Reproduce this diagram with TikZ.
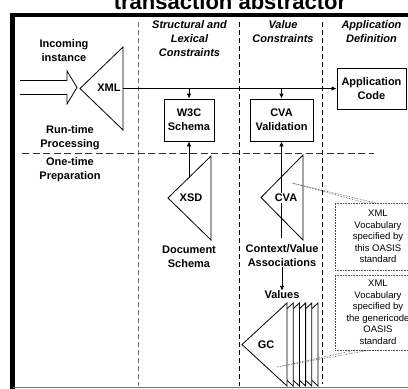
\documentclass[tikz,border=0pt]{standalone}
\usepackage{fontspec}
\setmainfont{Liberation Sans}
\usetikzlibrary{arrows.meta,positioning}

\begin{document}
\begin{tikzpicture}[
  x=1pt, y=-1pt,
  >=Latex,
  lbl/.style={font=\bfseries\fontsize{11}{14}\selectfont, align=center, inner sep=0pt},
  head/.style={lbl, font=\bfseries\itshape\fontsize{11}{14}\selectfont},
  box/.style={lbl, draw, line width=0.8pt, fill=white},
  tri/.style={draw, fill=white, line width=0.8pt, line join=miter},
  trilabel/.style={lbl, fill=white, inner sep=1pt},
  note/.style={draw=black!70, densely dotted, line width=0.6pt, fill=white,
    align=center, font=\fontsize{9.5}{11.5}\selectfont, inner sep=0pt},
  pointer/.style={draw=black!70, densely dotted, line width=0.6pt},
  divider/.style={dash pattern=on 5pt off 3pt, line width=0.8pt},
  link/.style={-{Latex[length=5pt,width=4.5pt]}, line width=0.8pt}
]
\clip (0,0) rectangle (408,389);

\node[anchor=base, font=\bfseries\fontsize{22}{22}\selectfont] (title) at (230,9) {transaction abstractor};

\draw[line width=4.5pt] (12.5,392) -- (12.5,15) -- (412,15);
\draw[black!55, line width=1.2pt] (12.5,387.5) -- (412,387.5);

\draw[divider, black!55] (138,22) -- (138,386);
\draw[divider] (239,22) -- (239,386);
\draw[divider] (322,22) -- (322,384);
\draw[divider, black!80, dash pattern=on 7pt off 3.5pt] (22,153) -- (374,153);

\node[head] (hstruct) at (189.5,39) {Structural and\\Lexical\\Constraints};
\node[head] (hvalue) at (283,32) {Value\\Constraints};
\node[head] (happ) at (371.5,32) {Application\\Definition};

\node[lbl] (incoming) at (64,50.5) {Incoming\\instance};
\node[lbl] (runtime) at (70,138) {Run-time\\Processing};
\node[lbl] (onetime) at (70,170) {One-time\\Preparation};

\draw[line width=0.8pt, line join=miter] (20,80.5) -- (67,80.5) -- (67,71) -- (77,87.5)
  -- (67,104) -- (67,94.5) -- (20,94.5);

\draw[tri] (80,88.5) -- (123,47) -- (123,130) -- cycle;
\draw[tri] (168,198) -- (211,156) -- (211,240) -- cycle;
\draw[tri] (261,197.5) -- (303,155) -- (303,240) -- cycle;
\foreach \i in {5,4,...,0}
  \draw[tri] ({242+6.2*\i},344.5) -- ({287+6.2*\i},303) -- ({287+6.2*\i},386) -- cycle;

\node[box, minimum width=50pt, minimum height=42pt] (w3c) at (189,120) {W3C\\Schema};
\node[box, minimum width=63pt, minimum height=42pt] (cvabox) at (281.5,120) {CVA\\Validation};
\node[box, minimum width=69pt, minimum height=41pt] (app) at (371.5,88.5) {Application\\Code};

\coordinate (xmlout) at (123,88.5);
\coordinate (xsdout) at (189,177.5);
\coordinate (cvaout) at (281.5,238);

\node[lbl] (docschema) at (189,256.5) {Document\\Schema};
\node[lbl] (assoc) at (282,256) {Context/Value\\Associations};
\node[lbl] (values) at (282,295) {Values};

\draw[link] (xmlout) -- (app.west);
\foreach \b in {w3c,cvabox}
  \draw[link] (\b.north |- xmlout) -- (\b.north);
\draw[link] (xsdout) -- (w3c.south);
\draw[link] (cvaout) -- (cvabox.south);
\draw[link] (assoc) -- (values);

\node[trilabel] (xml) at (109,88) {XML};
\node[trilabel] (xsd) at (191,198) {XSD};
\node[trilabel] (cva) at (286,198) {CVA};
\node[trilabel] (gc) at (266,345) {GC};

\coordinate (cvatip) at (292,183);
\coordinate (gctip) at (277,367);
\draw[pointer] (cvatip) -- (366,203) -- (376,203) -- cycle;
\draw[pointer] (gctip) -- (356,350) -- (370,350) -- cycle;

\node[note, minimum width=86pt, minimum height=67pt] (cvanote) at (378,236.5)
  {XML\\Vocabulary\\specified by\\this OASIS\\standard};
\node[note, minimum width=86pt, minimum height=75pt] (gcnote) at (378,312.5)
  {XML\\Vocabulary\\specified by\\the genericode\\OASIS\\standard};

\end{tikzpicture}
\end{document}
